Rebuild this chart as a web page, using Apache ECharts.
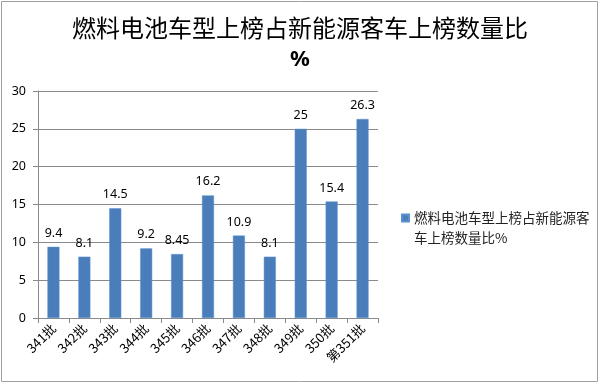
<!DOCTYPE html>
<html><head><meta charset="utf-8">
<script src="https://cdn.jsdelivr.net/npm/echarts@6/dist/echarts.min.js"></script>
<style>html,body{margin:0;padding:0;background:#fff}#c{width:600px;height:385px}</style>
</head><body><div id="c"></div>
<script>
var categories = ['341批','342批','343批','344批','345批','346批','347批','348批','349批','350批','第351批'];
var values = [9.4, 8.1, 14.5, 9.2, 8.45, 16.2, 10.9, 8.1, 25, 15.4, 26.3];
var seriesName = '燃料电池车型上榜占新能源客车上榜数量比%';
var titleLine1 = '燃料电池车型上榜占新能源客车上榜数量比';
var titleLine2 = '%';
var chart = echarts.init(document.getElementById('c'));
chart.setOption({
  animation: false,
  title: {
    text: '{a|' + titleLine1 + '}\n{b|' + titleLine2 + '}', left: 'center', top: 6,
    textStyle: {
      fontFamily: 'Noto Sans CJK SC', fontSize: 24, fontWeight: 'normal', color: '#000',
      rich: {
        a: {fontFamily: 'Noto Sans CJK SC', fontSize: 24, fontWeight: 'normal', color: '#000', lineHeight: 33, align: 'center'},
        b: {fontFamily: 'Noto Sans', fontSize: 22, fontWeight: 'bold', color: '#000', lineHeight: 31, align: 'center'}
      }
    }
  },
  graphic: [{type: 'rect', shape: {x: 1.5, y: 1.5, width: 596, height: 380}, style: {fill: 'none', stroke: '#a0a0a0', lineWidth: 1}, silent: true}],
  legend: {
    left: 396, top: 203, orient: 'vertical',
    icon: 'path://M0,0 L7,0 L7,7 L0,7 Z M0,27 L0.01,27 L0,27 Z',
    itemWidth: 7, itemHeight: 27, itemGap: 4,
    formatter: function(){ return '燃料电池车型上榜占新能源客\n车上榜数量比%'; },
    textStyle: {fontFamily: 'Noto Sans CJK SC', fontSize: 13.5, color: '#222', lineHeight: 20, padding: [0,0,0,0]}
  },
  grid: {left: 38, right: 222, top: 91, bottom: 67},
  xAxis: {
    type: 'category', data: categories,
    axisLine: {lineStyle: {color: '#8a8a8a'}},
    axisTick: {show: true, length: 5, lineStyle: {color: '#8a8a8a'}},
    axisLabel: {rotate: 45, fontFamily: 'Noto Sans CJK SC', fontSize: 13, color: '#000', margin: 8}
  },
  yAxis: {
    type: 'value', min: 0, max: 30, interval: 5,
    axisLine: {show: true, lineStyle: {color: '#8a8a8a'}},
    axisTick: {show: true, length: 5, lineStyle: {color: '#8a8a8a'}},
    splitLine: {lineStyle: {color: '#8a8a8a'}},
    axisLabel: {fontFamily: 'Noto Sans', fontSize: 12.5, color: '#000', margin: 12}
  },
  series: [{
    name: seriesName, type: 'bar', data: values, barWidth: 12,
    itemStyle: {color: '#4a7ebb', borderColor: '#5b8fcf', borderWidth: 0.5},
    label: {show: true, position: 'top', distance: 7, fontFamily: 'Noto Sans', fontSize: 12.5, color: '#000'}
  }]
});
</script></body></html>
